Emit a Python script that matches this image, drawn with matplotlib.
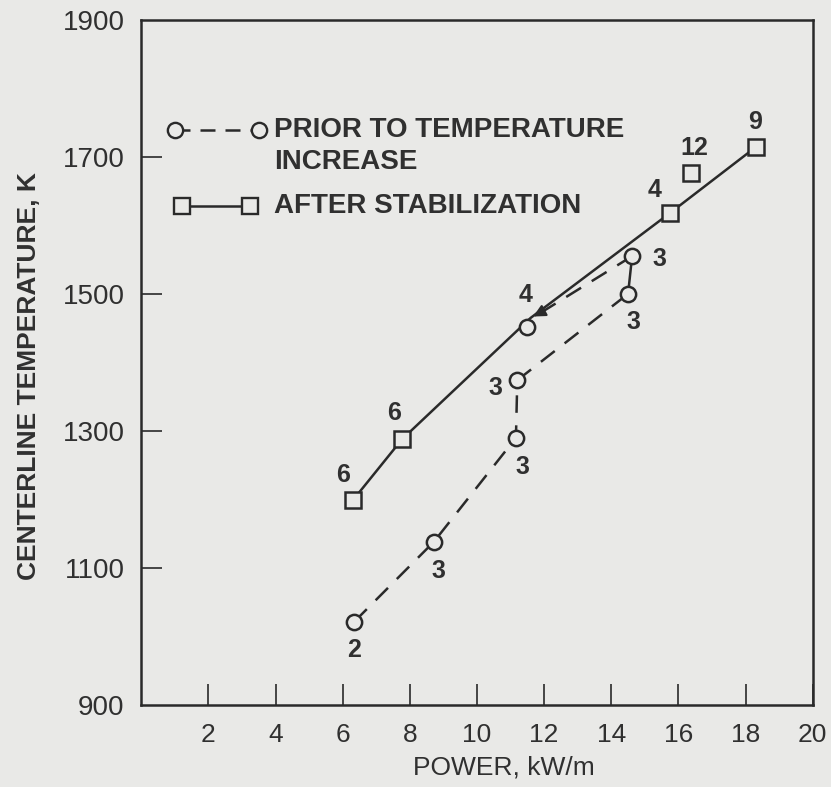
import matplotlib
matplotlib.use("Agg")
import matplotlib.pyplot as plt

# after stabilization (squares, solid line)
stab_x = [6.32, 7.77, 11.6, 15.75, 18.3]
stab_y = [1200, 1288, 1465, 1618, 1714]
stab_n = ["6", "6", "4", "4", "9"]
# off-line square
odd_x = [16.38]
odd_y = [1677]
odd_n = ["12"]

# prior to temperature increase (circles, dashed line)
prior_x = [6.35, 8.71, 11.16, 11.2, 14.5, 14.62]
prior_y = [1022, 1138, 1290, 1374, 1500, 1555]
prior_n = ["2", "3", "3", "3", "3", "3"]
# circle sitting under the solid line
lone_x = [11.5]
lone_y = [1451]

ink = "#2a2a2a"
txt = "#303030"
bg = "#e9e9e7"

plt.rcParams["font.family"] = ["Liberation Sans", "DejaVu Sans"]

fig = plt.figure(figsize=(8.31, 7.87), dpi=100, facecolor=bg)
ax = fig.add_axes([0.170, 0.104, 0.808, 0.871])
ax.set_facecolor(bg)

# dashed series, broken into the pieces drawn on the figure
dash = dict(color=ink, lw=1.8, dashes=(7, 5))
ax.plot(prior_x[:4], prior_y[:4], **dash)
ax.plot(prior_x[3:5], prior_y[3:5], **dash)
ax.plot(prior_x[4:6], prior_y[4:6], color=ink, lw=1.8)
# dashed return leg ending in an arrowhead on the solid line
ax.plot([prior_x[5], stab_x[2] + 0.25], [prior_y[5], stab_y[2] + 6], **dash)
ax.annotate("", xy=(stab_x[2], stab_y[2]), xytext=(stab_x[2] + 0.45, stab_y[2] + 12),
            arrowprops=dict(arrowstyle="-|>", color=ink, lw=1.6, mutation_scale=18))

ax.plot(prior_x, prior_y, ls="none", marker="o", ms=11, mfc=bg, mec=ink, mew=1.8, zorder=3)
ax.plot(lone_x, lone_y, ls="none", marker="o", ms=11, mfc=bg, mec=ink, mew=1.8, zorder=3)

# solid series
ax.plot(stab_x, stab_y, color=ink, lw=1.8)
ax.plot([stab_x[0], stab_x[1]], [stab_y[0], stab_y[1]], ls="none", marker="s", ms=12,
        mfc=bg, mec=ink, mew=1.8, zorder=3)
ax.plot(stab_x[3:], stab_y[3:], ls="none", marker="s", ms=12, mfc=bg, mec=ink, mew=1.8, zorder=3)
ax.plot(odd_x, odd_y, ls="none", marker="s", ms=12, mfc=bg, mec=ink, mew=1.8, zorder=3)

# sample counts next to each point
lab = dict(fontsize=18, color=txt, ha="center", va="center", fontweight="bold")
ax.text(stab_x[0] - 0.3, stab_y[0] + 36, stab_n[0], **lab)
ax.text(stab_x[1] - 0.25, stab_y[1] + 38, stab_n[1], **lab)
ax.text(stab_x[2] - 0.15, stab_y[2] + 33, stab_n[2], **lab)
ax.text(stab_x[3] - 0.45, stab_y[3] + 34, stab_n[3], **lab)
ax.text(stab_x[4] - 0.03, stab_y[4] + 36, stab_n[4], **lab)
ax.text(odd_x[0] + 0.1, odd_y[0] + 36, odd_n[0], **lab)
ax.text(prior_x[0], prior_y[0] - 42, prior_n[0], **lab)
ax.text(prior_x[1] + 0.13, prior_y[1] - 42, prior_n[1], **lab)
ax.text(prior_x[2] + 0.2, prior_y[2] - 42, prior_n[2], **lab)
ax.text(prior_x[3] - 0.65, prior_y[3] - 12, prior_n[3], **lab)
ax.text(prior_x[4] + 0.15, prior_y[4] - 41, prior_n[4], **lab)
ax.text(prior_x[5] + 0.8, prior_y[5] - 4, prior_n[5], **lab)

# legend drawn by hand
ax.plot([1.0, 3.5], [1739, 1739], color=ink, lw=1.8, dashes=(6, 4))
ax.plot([1.0, 3.5], [1739, 1739], ls="none", marker="o", ms=11, mfc=bg, mec=ink, mew=1.7)
ax.plot([1.2, 3.25], [1628, 1628], color=ink, lw=1.8)
ax.plot([1.2, 3.25], [1628, 1628], ls="none", marker="s", ms=11, mfc=bg, mec=ink, mew=1.7)
leg = dict(fontsize=20, color=txt, ha="left", va="center", fontweight="bold")
ax.text(3.95, 1739, "PRIOR TO TEMPERATURE", **leg)
ax.text(3.95, 1693, "INCREASE", **leg)
ax.text(3.95, 1628, "AFTER STABILIZATION", **leg)

ax.set_xlim(0, 20)
ax.set_ylim(900, 1900)
ax.set_xticks(range(2, 21, 2))
ax.set_yticks(range(900, 1901, 200))
ax.tick_params(axis="both", direction="in", length=15, width=1.2, color=ink,
               labelcolor=txt)
ax.tick_params(axis="x", pad=13, top=False, labelsize=19)
ax.tick_params(axis="y", pad=12, right=False, labelsize=20)
for s in ax.spines.values():
    s.set_color(ink)
    s.set_linewidth(1.8)
ax.yaxis.get_major_ticks()[0].tick1line.set_visible(False)
ax.yaxis.get_major_ticks()[-1].tick1line.set_visible(False)

ax.set_xlabel("POWER, kW/m", fontsize=19, color=txt)
ax.xaxis.set_label_coords(0.54, -0.074)
ax.set_ylabel("CENTERLINE TEMPERATURE, K", fontsize=19, color=txt, fontweight="bold")
ax.yaxis.set_label_coords(-0.15, 0.48)

fig.savefig("out.png", dpi=100, facecolor=bg)
